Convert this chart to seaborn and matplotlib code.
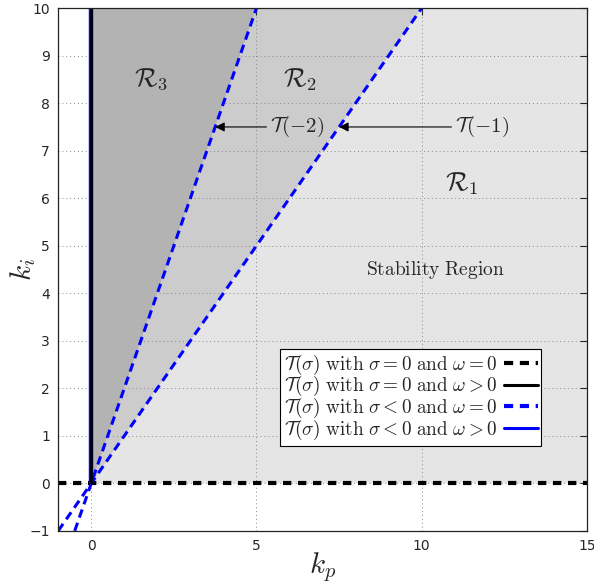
import numpy as np
import pandas as pd
import matplotlib
matplotlib.use("Agg")
import matplotlib.pyplot as plt
import seaborn as sns

# boundary lines T(sigma) (endpoints)
t2_kp = [-0.5, 0, 5]      # T(-2): k_i = 2 k_p
t2_ki = [-1, 0, 10]
t1_kp = [-1, 0, 10]       # T(-1): k_i = k_p
t1_ki = [-1, 0, 10]
zero_kp = [-1, 15]        # sigma = 0, omega = 0  -> k_i = 0
zero_ki = [0, 0]
vert_kp = [0, 0]          # sigma = 0, omega > 0 -> k_p = 0
vert_ki = [0, 10]

region_labels = [r"$\mathcal{R}_3$", r"$\mathcal{R}_2$", r"$\mathcal{R}_1$"]
region_pos = [(1.8, 8.5), (6.3, 8.5), (11.2, 6.3)]
x_ticks = [0, 5, 10, 15]
y_ticks = list(range(-1, 11))

sns.set_style("white")
plt.rcParams["mathtext.fontset"] = "cm"
plt.rcParams["font.family"] = ["DejaVu Sans"]

fig, ax = plt.subplots(figsize=(5.94, 5.84), dpi=100)
fig.subplots_adjust(left=0.098, right=0.988, top=0.986, bottom=0.091)

# shaded regions
ax.fill([0, 15, 15, 0], [0, 0, 10, 10], color="#e5e5e5", zorder=0, lw=0)
ax.fill([0, t1_kp[-1], t2_kp[-1]], [0, t1_ki[-1], t2_ki[-1]], color="#cccccc", zorder=0.5, lw=0)
ax.fill([0, t2_kp[-1], 0], [0, t2_ki[-1], 10], color="#b3b3b3", zorder=0.6, lw=0)

sns.lineplot(x=zero_kp, y=zero_ki, ax=ax, color="black", lw=3, zorder=4)
ax.lines[-1].set_dashes([2.0, 1.6])
sns.lineplot(x=vert_kp, y=vert_ki, ax=ax, color="blue", lw=3.2, zorder=4, sort=False, estimator=None)
sns.lineplot(x=vert_kp, y=vert_ki, ax=ax, color="black", lw=2, zorder=5, sort=False, estimator=None)
for xs, ys in [(t1_kp, t1_ki), (t2_kp, t2_ki)]:
    sns.lineplot(x=xs, y=ys, ax=ax, color="blue", lw=2.2, zorder=4, sort=False, estimator=None)
    ax.lines[-1].set_dashes([2.8, 1.8])

# legend handles
h = [
    plt.Line2D([], [], color="black", lw=3, dashes=[2.2, 1.6]),
    plt.Line2D([], [], color="black", lw=2.2),
    plt.Line2D([], [], color="blue", lw=3, dashes=[2.2, 1.6]),
    plt.Line2D([], [], color="blue", lw=2.2),
]
lab = [
    r"$\mathcal{T}(\sigma)\ \mathrm{with}\ \sigma=0\ \mathrm{and}\ \omega=0$",
    r"$\mathcal{T}(\sigma)\ \mathrm{with}\ \sigma=0\ \mathrm{and}\ \omega>0$",
    r"$\mathcal{T}(\sigma)\ \mathrm{with}\ \sigma<0\ \mathrm{and}\ \omega=0$",
    r"$\mathcal{T}(\sigma)\ \mathrm{with}\ \sigma<0\ \mathrm{and}\ \omega>0$",
]
leg = ax.legend(h, lab, loc="lower left", bbox_to_anchor=(0.42, 0.1625), markerfirst=False,
                fontsize=13.8, frameon=True, fancybox=False, framealpha=1, edgecolor="black",
                handlelength=1.75, handletextpad=0.35, labelspacing=-0.12, borderpad=0.2,
                borderaxespad=0)
leg.get_frame().set_linewidth(0.8)
leg.set_zorder(10)

for t, (x, y) in zip(region_labels, region_pos):
    ax.text(x, y, t, fontsize=19, ha="center", va="center", zorder=6)
ax.text(10.4, 4.5, r"$\mathrm{Stability\ Region}$", fontsize=14, ha="center", va="center", zorder=6)

# arrows to T(-2) and T(-1)
ax.annotate(r"$\mathcal{T}(-2)$", xy=(3.75, 7.5), xytext=(5.4, 7.5), fontsize=15, va="center",
            ha="left", arrowprops=dict(arrowstyle="-|>", color="black", lw=0.8,
                                       mutation_scale=14, shrinkA=0, shrinkB=0), zorder=6)
ax.annotate(r"$\mathcal{T}(-1)$", xy=(7.5, 7.5), xytext=(11.0, 7.5), fontsize=15, va="center",
            ha="left", arrowprops=dict(arrowstyle="-|>", color="black", lw=0.8,
                                       mutation_scale=14, shrinkA=0, shrinkB=0), zorder=6)

ax.set_xlim(-1, 15)
ax.set_ylim(-1, 10)
ax.set_xticks(x_ticks)
ax.set_yticks(y_ticks)
ax.tick_params(direction="in", length=5, labelsize=10, top=True, right=True,
               labeltop=False, labelright=False, width=0.8, pad=6)
ax.grid(True, linestyle=(0, (1, 3)), color="#888888", lw=0.7)
for g in ax.get_xgridlines() + ax.get_ygridlines():
    g.set_zorder(1)
for s in ax.spines.values():
    s.set_color("#222222")
    s.set_linewidth(0.9)
    s.set_zorder(7)
ax.set_xlabel(r"$k_p$", fontsize=21)
ax.set_ylabel(r"$k_i$", fontsize=21)
ax.xaxis.set_label_coords(0.5, -0.07)
ax.xaxis.label.set_va("center")
ax.yaxis.set_label_coords(-0.066, 0.5)
ax.yaxis.label.set_va("center")

fig.savefig("out.png", dpi=100)
